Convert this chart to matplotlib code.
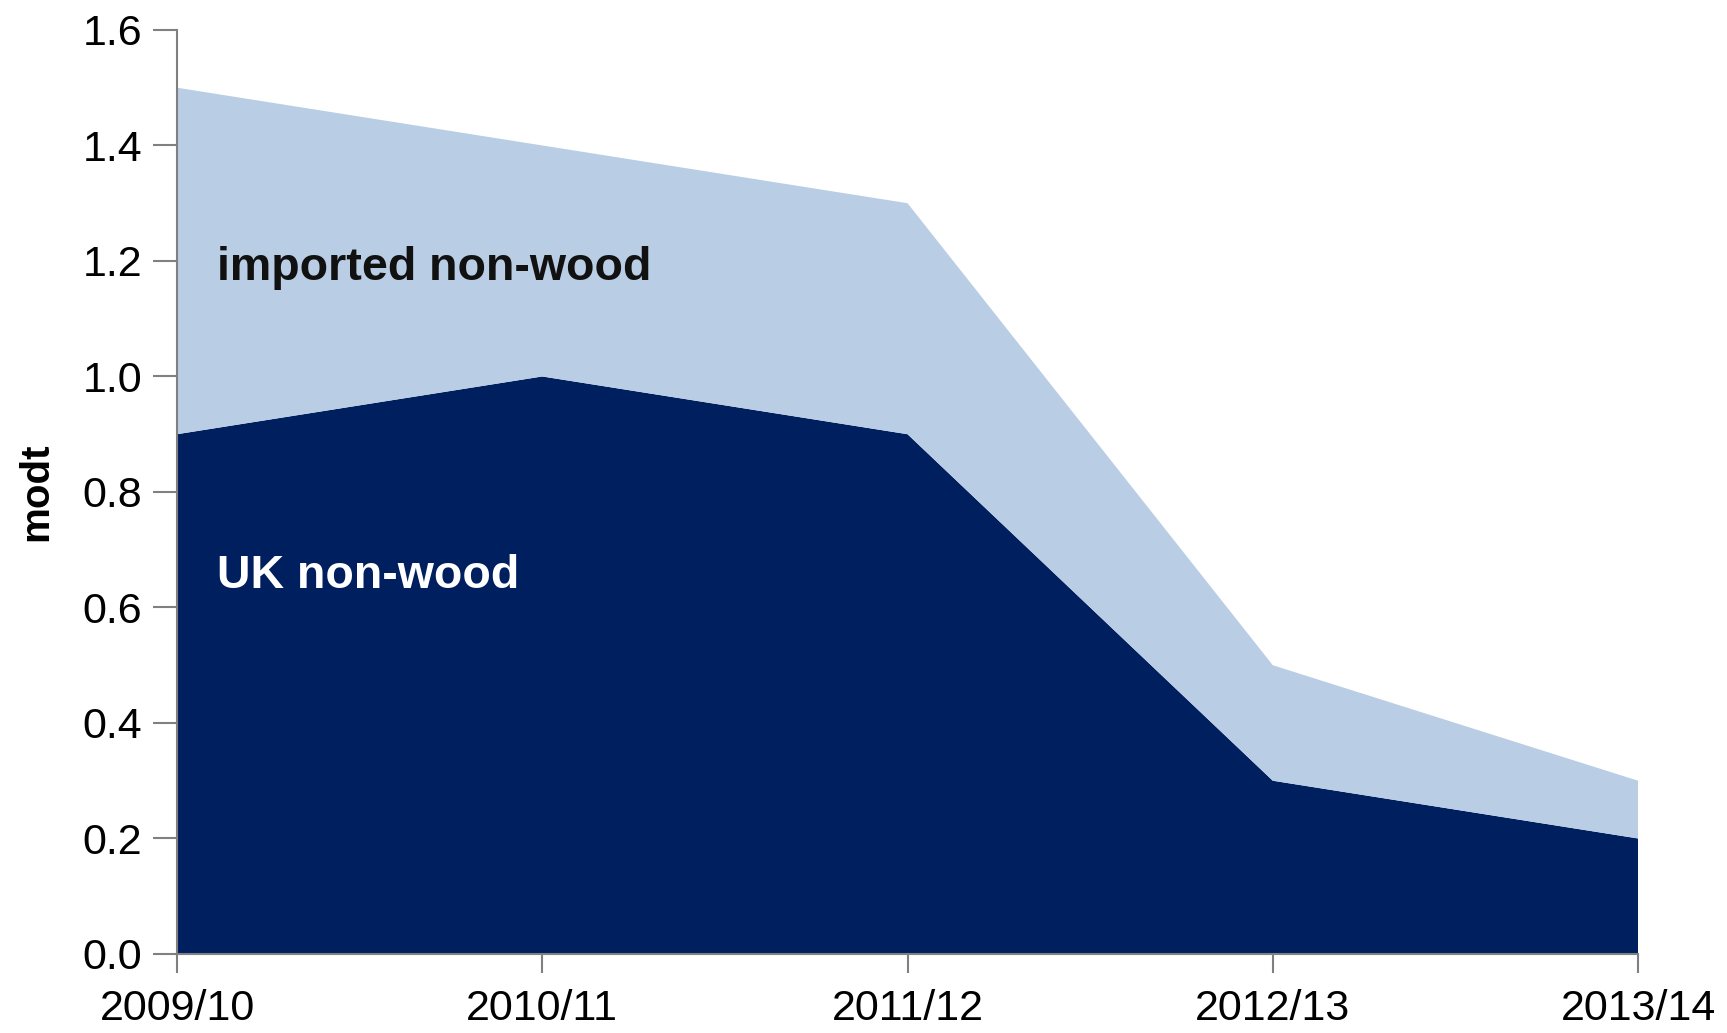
import matplotlib
matplotlib.use("Agg")
import matplotlib.pyplot as plt

years = ["2009/10", "2010/11", "2011/12", "2012/13", "2013/14"]
uk_non_wood = [0.9, 1.0, 0.9, 0.3, 0.2]
imported_non_wood = [0.6, 0.4, 0.4, 0.2, 0.1]
yticks = [0.0, 0.2, 0.4, 0.6, 0.8, 1.0, 1.2, 1.4, 1.6]

plt.rcParams['font.family'] = ['Liberation Sans', 'DejaVu Sans']

fig = plt.figure(figsize=(17.27, 10.33), dpi=100)
ax = fig.add_axes([0.1025, 0.0765, 0.846, 0.8945])

x = list(range(len(years)))
ax.stackplot(x, uk_non_wood, imported_non_wood,
             colors=["#001f5f", "#b9cde5"], linewidth=0)

ax.set_xlim(0, len(years) - 1)
ax.set_ylim(0, 1.6)
ax.set_xticks(x)
ax.set_xticklabels(years)
ax.set_yticks(yticks)
ax.set_yticklabels([f"{v:.1f}" for v in yticks])

for s in ["top", "right"]:
    ax.spines[s].set_visible(False)
for s in ["left", "bottom"]:
    ax.spines[s].set_color("#808080")
    ax.spines[s].set_linewidth(1.5)
ax.tick_params(axis="y", length=17, width=1.5, color="#808080", labelsize=31, pad=8)
ax.tick_params(axis="x", length=14, width=1.5, color="#808080", labelsize=31, pad=11)

ax.set_ylabel("modt", fontsize=29, fontweight="bold", labelpad=20)

ax.text(0.11, 1.187, "imported non-wood", fontsize=33.5, fontweight="bold",
        color="#111111", va="center", ha="left")
ax.text(0.11, 0.655, "UK non-wood", fontsize=33.5, fontweight="bold",
        color="white", va="center", ha="left")

fig.savefig("out.png", dpi=100)
